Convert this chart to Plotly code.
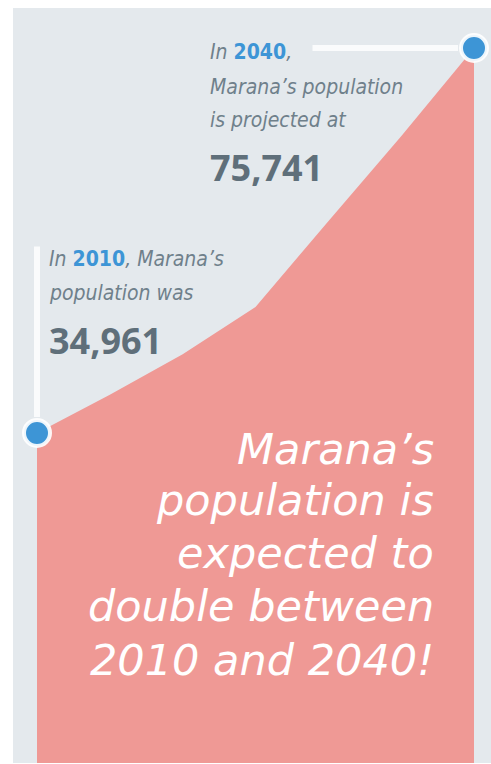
import plotly.graph_objects as go

# ---- data ----
years = [2010, 2015, 2020, 2025, 2030, 2035, 2040]
population = [34961, 39000, 43300, 48300, 57400, 66400, 75741]
highlight_years = [2010, 2040]
highlight_values = [34961, 75741]

PINK = "#ef9995"
PANEL = "#e4e9ed"
BLUE = "#3d95d6"
GREY = "#6f808b"
NUMGREY = "#5f6f7a"
NARROW = "Liberation Sans Narrow, DejaVu Sans Condensed, Arial Narrow, sans-serif"

W, H = 491, 764
ML, MR, MT, MB = 37, 17, 48, 1
pw, ph = W - ML - MR, H - MT - MB


def px(x):  # pixel x -> paper
    return (x - ML) / pw


def py(y):  # pixel y -> paper
    return (H - MB - y) / ph


fig = go.Figure()

fig.add_trace(go.Scatter(
    x=years, y=population, mode="lines", fill="tozeroy",
    line=dict(width=0, color=PINK), fillcolor=PINK,
    hoverinfo="skip", showlegend=False,
))

fig.add_trace(go.Scatter(
    x=highlight_years, y=highlight_values, mode="markers",
    marker=dict(size=26, color=BLUE, line=dict(color="rgba(255,255,255,0.9)", width=4)),
    cliponaxis=False, showlegend=False, hoverinfo="skip",
))

# background panel
fig.add_shape(type="rect", xref="paper", yref="paper",
              x0=px(13), x1=px(W + 2), y0=py(763), y1=py(8),
              fillcolor=PANEL, line_width=0, layer="below")

annos = []
# connector lines (anchored at data points)
annos.append(dict(x=highlight_years[0], y=highlight_values[0], xref="x", yref="y",
                  text="", showarrow=True, arrowhead=0, arrowwidth=6,
                  arrowcolor="rgba(255,255,255,0.85)", ax=0, ay=-188, standoff=16))
annos.append(dict(x=highlight_years[1], y=highlight_values[1], xref="x", yref="y",
                  text="", showarrow=True, arrowhead=0, arrowwidth=6,
                  arrowcolor="rgba(255,255,255,0.85)", ax=-163, ay=0, standoff=16))


def txt(x, y, s, size, color, family=NARROW, italic=True, bold=False, xanchor="left"):
    annos.append(dict(x=px(x), y=py(y), xref="paper", yref="paper", text=s,
                      showarrow=False, xanchor=xanchor, yanchor="middle", align=xanchor,
                      font=dict(family=family, size=size, color=color,
                                style="italic" if italic else "normal",
                                weight="bold" if bold else "normal")))


yr = lambda v: f"<span style='color:{BLUE};font-style:normal;font-weight:bold'>{v}</span>"

# 2040 block
txt(208, 52, f"In {yr(2040)},", 21, GREY)
txt(208, 87, "Marana’s population", 21, GREY)
txt(208, 120, "is projected at", 21, GREY)
txt(208, 167, f"{highlight_values[1]:,}", 36, NUMGREY, family="Open Sans, sans-serif", italic=False, bold=True)

# 2010 block
txt(47, 259, f"In {yr(2010)}, Marana’s", 21, GREY)
txt(47, 293, "population was", 21, GREY)
txt(47, 340, f"{highlight_values[0]:,}", 36, NUMGREY, family="Open Sans, sans-serif", italic=False, bold=True)

# big message
big = ["Marana’s", "population is", "expected to", "double between", "2010 and 2040!"]
big_y = [449, 500, 553, 606, 660]
for s, y in zip(big, big_y):
    txt(436, y, s, 43, "white", family="DejaVu Sans, sans-serif", xanchor="right")

fig.update_layout(
    width=W, height=H,
    margin=dict(l=ML, r=MR, t=MT, b=MB, pad=0),
    paper_bgcolor="white", plot_bgcolor="rgba(0,0,0,0)",
    xaxis=dict(range=[years[0], years[-1]], visible=False, fixedrange=True),
    yaxis=dict(range=[0, highlight_values[1]], visible=False, fixedrange=True),
    annotations=annos, showlegend=False,
)

fig.write_html("out.html", config={"displayModeBar": False},
               post_script="document.body.style.margin='0';document.body.style.overflow='hidden';")
